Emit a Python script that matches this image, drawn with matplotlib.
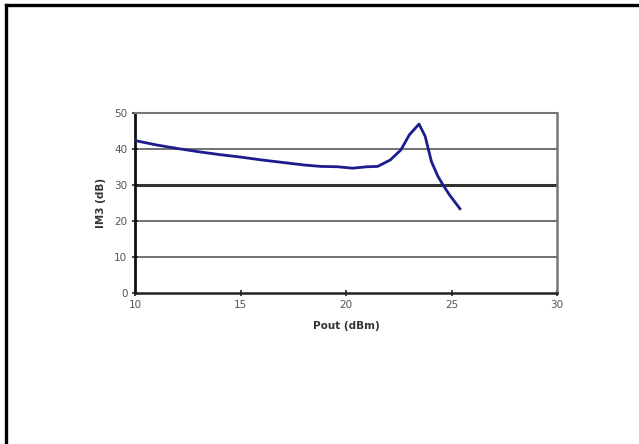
import matplotlib.pyplot as plt
from matplotlib.lines import Line2D

# IM3 vs output power
pout = [10.0, 11.0, 12.0, 13.0, 14.0, 15.0, 16.0, 17.0, 18.0, 18.8, 19.6, 20.3,
        21.0, 21.5, 22.1, 22.6, 23.0, 23.46, 23.75, 24.05, 24.35, 24.6, 24.9, 25.4]
im3 = [42.4, 41.2, 40.2, 39.3, 38.5, 37.8, 37.0, 36.3, 35.6, 35.2, 35.1, 34.7,
       35.1, 35.2, 37.0, 39.8, 44.0, 47.0, 43.6, 36.5, 32.5, 30.0, 27.3, 23.4]

x_ticks = [10, 15, 20, 25, 30]
y_ticks = [0, 10, 20, 30, 40, 50]

fig = plt.figure(figsize=(6.39, 4.44), dpi=100)
ax = fig.add_axes([0.2113, 0.3408, 0.6604, 0.404])

for y in y_ticks[1:]:
    lw = 2.2 if y == 30 else 1.3
    col = '#333333' if y == 30 else '#666666'
    ax.axhline(y, color=col, lw=lw, zorder=1)

ax.plot(pout, im3, color='#1c1c8e', lw=2.0, zorder=3)

ax.set_xlim(10, 30)
ax.set_ylim(0, 50)
ax.set_xticks(x_ticks)
ax.set_yticks(y_ticks)
ax.tick_params(axis='both', labelsize=7.5, colors='#222222', labelcolor='#555555',
               length=4, width=1.2, direction='inout')
ax.spines['left'].set_color('#111111')
ax.spines['left'].set_linewidth(2.0)
ax.spines['bottom'].set_color('#222222')
ax.spines['bottom'].set_linewidth(1.8)
ax.spines['top'].set_color('#777777')
ax.spines['top'].set_linewidth(1.5)
ax.spines['right'].set_color('#777777')
ax.spines['right'].set_linewidth(1.8)

ax.set_xlabel('Pout (dBm)', fontsize=7.5, fontweight='bold', color='#333333', labelpad=8)
ax.set_ylabel('IM3 (dB)', fontsize=7.5, fontweight='bold', color='#333333', labelpad=6)

# outer frame (top and left edges only visible)
fig.add_artist(Line2D([6 / 639, 1.0], [1 - 5 / 444, 1 - 5 / 444],
                      transform=fig.transFigure, color='black', lw=2.4))
fig.add_artist(Line2D([6 / 639, 6 / 639], [0.0, 1 - 5 / 444],
                      transform=fig.transFigure, color='black', lw=2.4))

fig.savefig('out.png', dpi=100)
